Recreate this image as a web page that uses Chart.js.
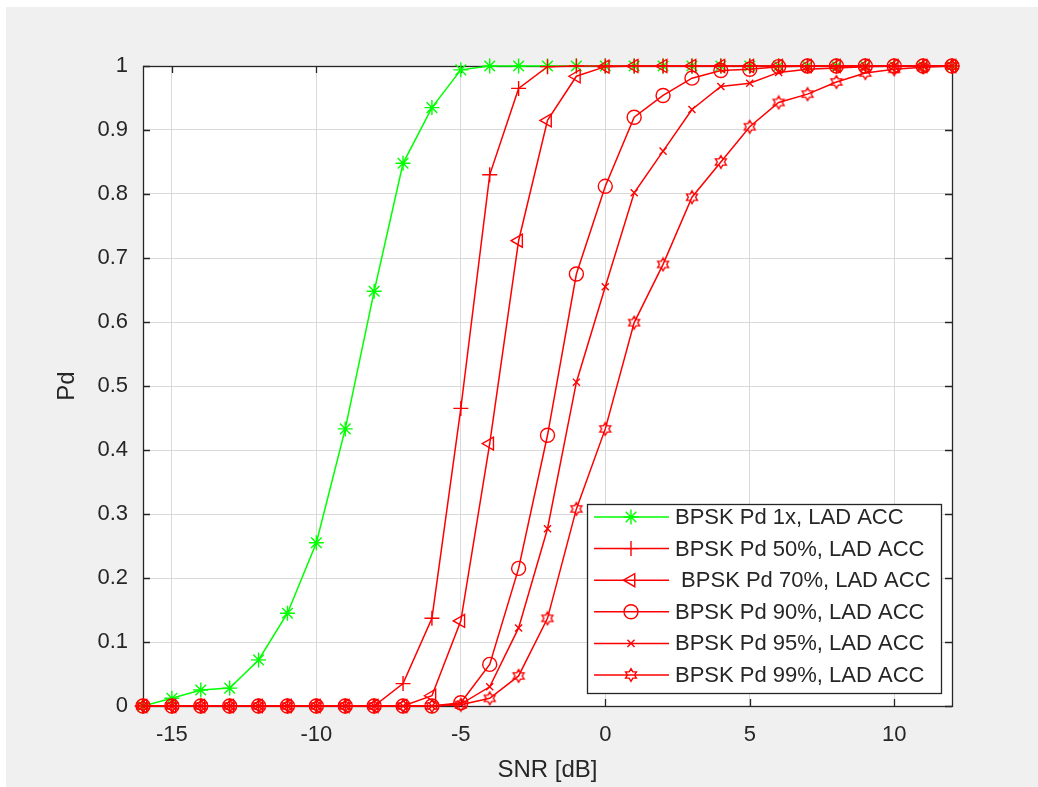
<!DOCTYPE html>
<html>
<head>
<meta charset="utf-8">
<script src="https://cdn.jsdelivr.net/npm/chart.js@4.4.1/dist/chart.umd.min.js"></script>
<style>
  html, body { margin: 0; padding: 0; background: #fff; }
  #wrap { position: absolute; left: 6px; top: 7px; width: 1032px; height: 780px; background: #f0f0f0; }
</style>
</head>
<body>
<div id="wrap"><canvas id="pdChart" width="1032" height="780"></canvas></div>
<script>
// SNR values in dB
const snr = [-16, -15, -14, -13, -12, -11, -10, -9, -8, -7, -6, -5, -4, -3, -2, -1, 0, 1, 2, 3, 4, 5, 6, 7, 8, 9, 10, 11, 12];

const pd1x  = [0, 0.012, 0.025, 0.028, 0.072, 0.145, 0.255, 0.433, 0.648, 0.848, 0.935, 0.994, 1, 1, 1, 1, 1, 1, 1, 1, 1, 1, 1, 1, 1, 1, 1, 1, 1];
const pd50  = [0, 0, 0, 0, 0, 0, 0, 0, 0, 0.035, 0.137, 0.465, 0.83, 0.965, 0.999, 1, 1, 1, 1, 1, 1, 1, 1, 1, 1, 1, 1, 1, 1];
const pd70  = [0, 0, 0, 0, 0, 0, 0, 0, 0, 0, 0.016, 0.133, 0.41, 0.727, 0.915, 0.984, 0.999, 1, 1, 1, 1, 1, 1, 1, 1, 1, 1, 1, 1];
const pd90  = [0, 0, 0, 0, 0, 0, 0, 0, 0, 0, 0, 0.005, 0.065, 0.215, 0.423, 0.675, 0.812, 0.92, 0.954, 0.981, 0.993, 0.995, 0.999, 1, 1, 1, 1, 1, 1];
const pd95  = [0, 0, 0, 0, 0, 0, 0, 0, 0, 0, 0, 0.003, 0.03, 0.122, 0.277, 0.506, 0.655, 0.802, 0.867, 0.932, 0.968, 0.973, 0.99, 0.995, 0.997, 0.999, 1, 1, 1];
const pd99  = [0, 0, 0, 0, 0, 0, 0, 0, 0, 0, 0, 0.002, 0.012, 0.047, 0.137, 0.308, 0.433, 0.599, 0.69, 0.795, 0.85, 0.905, 0.943, 0.956, 0.975, 0.989, 0.995, 0.998, 1];

const seriesNames = [
  "BPSK Pd 1x, LAD ACC",
  "BPSK Pd 50%, LAD ACC",
  " BPSK Pd 70%, LAD ACC",
  "BPSK Pd 90%, LAD ACC",
  "BPSK Pd 95%, LAD ACC",
  "BPSK Pd 99%, LAD ACC",
];

const xTicks = [-15, -10, -5, 0, 5, 10];
const yTicks = [0, 0.1, 0.2, 0.3, 0.4, 0.5, 0.6, 0.7, 0.8, 0.9, 1];

const FONT = "'Liberation Sans', Arial, Helvetica, sans-serif";
const AXIS_COLOR = "#262626";
const GRID_COLOR = "#d9d9d9";
const GREEN = "#00ff00";
const RED = "#ff0000";

// hexagram marker (MATLAB 'h')
function makeHexagram(color) {
  const c = document.createElement("canvas");
  c.width = 16;
  c.height = 16;
  const g = c.getContext("2d");
  const ro = 6.3, ri = ro / Math.sqrt(3);
  g.strokeStyle = color;
  g.lineWidth = 1.4;
  g.beginPath();
  for (let k = 0; k < 12; k++) {
    const a = -Math.PI / 2 + (k * Math.PI) / 6;
    const r = k % 2 === 0 ? ro : ri;
    const px = 8 + r * Math.cos(a), py = 8 + r * Math.sin(a);
    k === 0 ? g.moveTo(px, py) : g.lineTo(px, py);
  }
  g.closePath();
  g.stroke();
  return c;
}

const toPts = (arr) => snr.map((x, i) => ({ x, y: arr[i] }));

const mk = (label, arr, color, style, radius, rotation, order) => ({
  label,
  data: toPts(arr),
  borderColor: color,
  backgroundColor: "rgba(0,0,0,0)",
  borderWidth: 1.5,
  pointStyle: style,
  pointRadius: radius,
  pointRotation: rotation,
  pointBorderWidth: 1.4,
  pointBorderColor: color,
  pointBackgroundColor: "rgba(0,0,0,0)",
  tension: 0,
  clip: false,
  order,
});

const datasets = [
  mk(seriesNames[0], pd1x, GREEN, "star", 7.5, 0, 6),
  mk(seriesNames[1], pd50, RED, "cross", 7.5, 0, 5),
  mk(seriesNames[2], pd70, RED, "triangle", 7.5, -90, 4),
  mk(seriesNames[3], pd90, RED, "circle", 7, 0, 3),
  mk(seriesNames[4], pd95, RED, "crossRot", 5, 0, 2),
  mk(seriesNames[5], pd99, RED, makeHexagram(RED), 7, 0, 1),
];

// white axes background
const axesBg = {
  id: "axesBg",
  beforeDraw(chart) {
    const { ctx, chartArea: a } = chart;
    ctx.save();
    ctx.fillStyle = "#fff";
    ctx.fillRect(a.left, a.top, a.right - a.left, a.bottom - a.top);
    ctx.restore();
  },
};

// box with inward ticks, like MATLAB axes
const frameTicks = {
  id: "frameTicks",
  beforeDatasetsDraw(chart) {
    const { ctx, chartArea: a, scales } = chart;
    const len = 7;
    ctx.save();
    ctx.strokeStyle = AXIS_COLOR;
    ctx.lineWidth = 1.3;
    ctx.beginPath();
    xTicks.forEach((v) => {
      const px = Math.round(scales.x.getPixelForValue(v)) + 0.5;
      ctx.moveTo(px, a.bottom); ctx.lineTo(px, a.bottom - len);
      ctx.moveTo(px, a.top); ctx.lineTo(px, a.top + len);
    });
    yTicks.forEach((v) => {
      const py = Math.round(scales.y.getPixelForValue(v)) + 0.5;
      ctx.moveTo(a.left, py); ctx.lineTo(a.left + len, py);
      ctx.moveTo(a.right, py); ctx.lineTo(a.right - len, py);
    });
    ctx.stroke();
    ctx.strokeRect(a.left + 0.5, a.top + 0.5, a.right - a.left, a.bottom - a.top);
    ctx.restore();
  },
};

// legend box inside the axes, bottom right
const innerLegend = {
  id: "innerLegend",
  afterDraw(chart) {
    const { ctx, chartArea: a } = chart;
    const w = 354, h = 189;
    const x0 = a.right - 11 - w, y0 = a.bottom - 13 - h;
    ctx.save();
    ctx.fillStyle = "#fff";
    ctx.fillRect(x0, y0, w, h);
    ctx.strokeStyle = AXIS_COLOR;
    ctx.lineWidth = 1.3;
    ctx.strokeRect(x0 + 0.5, y0 + 0.5, w, h);
    ctx.font = "22px " + FONT;
    ctx.textBaseline = "middle";
    ctx.textAlign = "left";
    chart.data.datasets.forEach((ds, i) => {
      const cy = y0 + 13 + i * 31.6;
      ctx.strokeStyle = ds.borderColor;
      ctx.lineWidth = ds.borderWidth;
      ctx.beginPath();
      ctx.moveTo(x0 + 7, cy);
      ctx.lineTo(x0 + 82, cy);
      ctx.stroke();
      ctx.lineWidth = ds.pointBorderWidth;
      ctx.fillStyle = "rgba(0,0,0,0)";
      if (Chart.helpers && Chart.helpers.drawPoint) {
        Chart.helpers.drawPoint(ctx, {
          pointStyle: ds.pointStyle,
          rotation: ds.pointRotation,
          radius: ds.pointRadius,
          borderWidth: ds.pointBorderWidth,
        }, x0 + 44, cy);
      }
      ctx.fillStyle = AXIS_COLOR;
      ctx.fillText(ds.label, x0 + 88, cy + 1);
    });
    ctx.restore();
  },
};

new Chart(document.getElementById("pdChart"), {
  type: "line",
  data: { datasets },
  plugins: [axesBg, frameTicks, innerLegend],
  options: {
    responsive: false,
    animation: false,
    layout: { padding: { left: 0, top: 59, right: 86, bottom: 0 } },
    plugins: { legend: { display: false }, tooltip: { enabled: false } },
    scales: {
      x: {
        type: "linear",
        min: -16,
        max: 12,
        afterBuildTicks: (s) => { s.ticks = xTicks.map((v) => ({ value: v })); },
        afterFit: (s) => { s.height = 81; },
        grid: { color: GRID_COLOR, lineWidth: 1, drawTicks: false },
        border: { display: false },
        ticks: { padding: 16, color: AXIS_COLOR, font: { family: FONT, size: 22 }, maxRotation: 0 },
        title: { display: true, text: "SNR [dB]", color: AXIS_COLOR, font: { family: FONT, size: 24 }, padding: { top: 0, bottom: 2 } },
      },
      y: {
        min: 0,
        max: 1,
        afterBuildTicks: (s) => { s.ticks = yTicks.map((v) => ({ value: v })); },
        afterFit: (s) => { s.width = 137; },
        grid: { color: GRID_COLOR, lineWidth: 1, drawTicks: false },
        border: { display: false },
        ticks: { padding: 15, color: AXIS_COLOR, font: { family: FONT, size: 22 }, callback: (v) => String(v) },
        title: { display: true, text: "Pd", color: AXIS_COLOR, font: { family: FONT, size: 24 }, padding: { top: 47, bottom: 0 } },
      },
    },
  },
});
</script>
</body>
</html>
